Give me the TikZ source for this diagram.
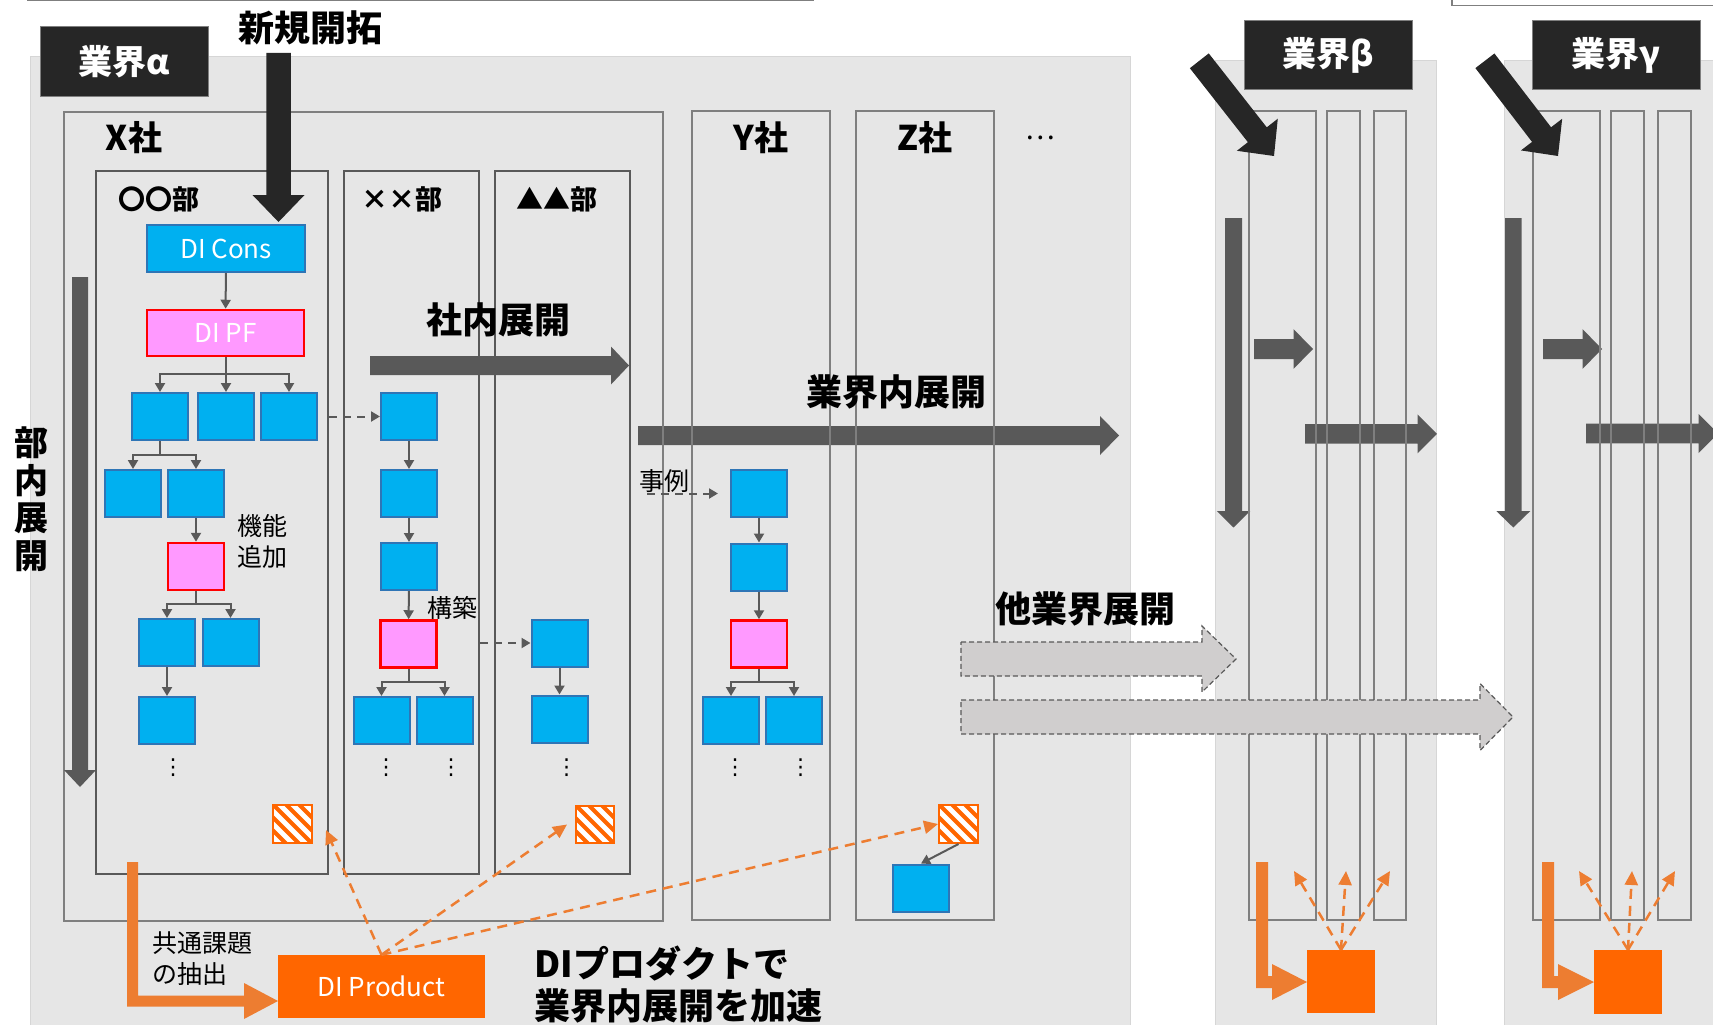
\documentclass[tikz,border=0pt]{standalone}
\usepackage{fontspec}
\setmainfont{Noto Sans CJK JP}
\newfontfamily\dejavu{DejaVu Sans}
\usetikzlibrary{calc,arrows.meta}

\definecolor{bgc}{HTML}{E6E6E6}
\definecolor{bgedge}{HTML}{D6D6D6}
\definecolor{darkc}{HTML}{262626}
\definecolor{g59}{HTML}{595959}
\definecolor{g7f}{HTML}{7F7F7F}
\definecolor{cyanb}{HTML}{00B0F0}
\definecolor{blueb}{HTML}{2E75B6}
\definecolor{pinkb}{HTML}{FF99FF}
\definecolor{redb}{HTML}{FF0000}
\definecolor{orfill}{HTML}{FF6600}
\definecolor{orarrow}{HTML}{ED7D31}
\definecolor{lightarr}{HTML}{D0CECE}

% block arrow: style, tail, tip, shaft half width, head half width, head length
\newcommand{\blockarrow}[6]{%
  \coordinate (ba-tip) at (#3);
  \coordinate (ba-tail) at (#2);
  \coordinate (ba-base) at ($(ba-tip)!#6!(ba-tail)$);
  \path[#1] ($(ba-tail)!#4!90:(ba-tip)$) -- ($(ba-base)!#4!90:(ba-tip)$)
    -- ($(ba-base)!#5!90:(ba-tip)$) -- (ba-tip) -- ($(ba-base)!#5!-90:(ba-tip)$)
    -- ($(ba-base)!#4!-90:(ba-tip)$) -- ($(ba-tail)!#4!-90:(ba-tip)$) -- cycle;
}

\tikzset{
  bgpanel/.style={fill=bgc, draw=bgedge, line width=1pt},
  darklabel/.style={fill=darkc, draw=g7f, line width=1pt, text=white, inner sep=0pt,
    font=\bfseries\fontsize{34}{40}\selectfont},
  company/.style={draw=g7f, line width=1.5pt, inner sep=0pt},
  dept/.style={draw=g59, line width=2.5pt, inner sep=0pt},
  bluebox/.style={fill=cyanb, draw=blueb, line width=2pt, inner sep=0pt, text=white,
    font=\fontsize{26}{30}\selectfont},
  pinkbox/.style={fill=pinkb, draw=redb, line width=2.5pt, inner sep=0pt, text=white,
    font=\fontsize{26}{30}\selectfont},
  sq/.style={minimum width=56pt, minimum height=47pt},
  hatchbox/.style={draw=orfill, line width=2pt, fill=white, inner sep=0pt,
    minimum width=39pt, minimum height=38pt,
    path picture={\foreach \k in {-4,...,4}{\draw[orfill, line width=4pt]
      ($(path picture bounding box.center)+(\k*13-25,-25)$) -- ++(50,50);}}},
  tree/.style={draw=g59, line width=2pt},
  treearrow/.style={tree, -{Triangle[length=9pt,width=10pt]}},
  dasharrow/.style={treearrow, dash pattern=on 8pt off 6pt},
  orangedash/.style={draw=orarrow, line width=2.5pt, dash pattern=on 10pt off 7pt,
    -{Triangle[length=14pt,width=13pt]}},
  heading/.style={font=\bfseries\fontsize{36}{42}\selectfont, inner sep=0pt},
  comp/.style={font=\bfseries\fontsize{34}{40}\selectfont, inner sep=0pt},
  deptlabel/.style={font=\bfseries\fontsize{27}{32}\selectfont, inner sep=0pt},
  smalltext/.style={font=\fontsize{25}{31}\selectfont, inner sep=0pt},
  vdots/.style={font=\dejavu\fontsize{22}{24}\selectfont, inner sep=0pt},
}

\begin{document}
\begin{tikzpicture}[x=1pt, y=-1pt]
\useasboundingbox (0,0) rectangle (1713,1025);
\clip (0,0) rectangle (1713,1025);

% frames cut by the picture edge
\draw[g7f, line width=1.5pt] (27,0.75) -- (814,0.75);
\draw[g7f, line width=1.5pt] (1452,-20) rectangle (1740,5.5);

% industry panels
\draw[bgpanel] (30,57) rectangle (1130,1040);
\draw[bgpanel] (1215,61) rectangle (1436,1040);
\draw[bgpanel] (1504,61) rectangle (1740,1040);

% big arrows under the frames
\blockarrow{fill=g59}{638,435.5}{1119,435.5}{9.5pt}{19.5pt}{19pt}
\blockarrow{fill=g59}{1233.5,218}{1233.5,527.5}{8.5pt}{16.75pt}{16.5pt}
\blockarrow{fill=g59}{1513.3,218}{1513.3,527.5}{8.3pt}{17pt}{16.5pt}
\blockarrow{fill=g59}{1254,349}{1313,349}{10pt}{19.8pt}{19.4pt}
\blockarrow{fill=g59}{1543,349}{1602,349}{10pt}{19.8pt}{19.4pt}
\blockarrow{fill=g59}{1305,433.8}{1437,433.8}{9.8pt}{19.5pt}{19.5pt}
\blockarrow{fill=g59}{1586,433.5}{1718,433.5}{9.8pt}{19.5pt}{19.5pt}

% companies
\node[company, minimum width=599pt, minimum height=809pt] (cX) at (363.5,516.5) {};
\node[company, minimum width=138pt, minimum height=809pt] (cY) at (761,515.5) {};
\node[company, minimum width=138pt, minimum height=809pt] (cZ) at (925,515.5) {};
% beta / gamma columns
\node[company, minimum width=67pt, minimum height=809pt] (bc1) at (1282.5,515.5) {};
\node[company, minimum width=33pt, minimum height=809pt] (bc2) at (1343.5,515.5) {};
\node[company, minimum width=32pt, minimum height=809pt] (bc3) at (1390,515.5) {};
\node[company, minimum width=67pt, minimum height=809pt] (gc1) at (1566.5,515.5) {};
\node[company, minimum width=33pt, minimum height=809pt] (gc2) at (1627.5,515.5) {};
\node[company, minimum width=33pt, minimum height=809pt] (gc3) at (1674.5,515.5) {};
% departments
\node[dept, minimum width=232pt, minimum height=703pt] (d1) at (212,522.5) {};
\node[dept, minimum width=135pt, minimum height=703pt] (d2) at (411.5,522.5) {};
\node[dept, minimum width=135pt, minimum height=703pt] (d3) at (562.5,522.5) {};

% industry labels
\node[darklabel, minimum width=168pt, minimum height=69pt] (labA) at (124,61.5) {業界α};
\node[darklabel, minimum width=168pt, minimum height=68pt] (labB) at (1328,55) {業界β};
\node[darklabel, minimum width=168pt, minimum height=68pt] (labG) at (1616,55) {業界γ};

% remaining big arrows (on top)
\blockarrow{fill=darkc}{278.5,53}{278.5,222}{12.25pt}{26pt}{27pt}
\blockarrow{fill=g59}{80,277}{80,787}{8pt}{16pt}{17pt}
\blockarrow{fill=g59}{370,365.5}{629,365.5}{9.5pt}{19pt}{18pt}
\blockarrow{fill=darkc}{1199.3,60.8}{1274,156}{12pt}{26pt}{27pt}
\blockarrow{fill=darkc}{1484.9,60.8}{1558,156}{12pt}{26pt}{27pt}
\blockarrow{fill=lightarr, draw=g59, line width=1.2pt, dash pattern=on 5pt off 3pt}{961,659}{1236,659}{17pt}{33pt}{34pt}
\blockarrow{fill=lightarr, draw=g59, line width=1.2pt, dash pattern=on 5pt off 3pt}{961,717}{1513,717}{17pt}{33.5pt}{33pt}

% OO dept
\node[bluebox, minimum width=158pt, minimum height=47pt] (dicons) at (226,248.5) {DI Cons};
\node[pinkbox, minimum width=157pt, minimum height=46pt] (dipf) at (225.5,333) {DI PF};
\node[bluebox, sq] (a1) at (160,416.5) {};
\node[bluebox, sq] (a2) at (226,416.5) {};
\node[bluebox, sq] (a3) at (289,416.5) {};
\node[bluebox, sq] (a4) at (133,493.5) {};
\node[bluebox, sq] (a5) at (196,493.5) {};
\node[pinkbox, sq] (a6) at (196,566.5) {};
\node[bluebox, sq] (a7) at (167,642.5) {};
\node[bluebox, sq] (a8) at (230.5,642.5) {};
\node[bluebox, sq] (a9) at (167,720.5) {};
% xx dept
\node[bluebox, sq] (b1) at (409,416.5) {};
\node[bluebox, sq] (b2) at (409,493.5) {};
\node[bluebox, sq] (b3) at (409,566.5) {};
\node[pinkbox, sq] (b4) at (408.5,644) {};
\node[bluebox, sq] (b5) at (381.5,720.5) {};
\node[bluebox, sq] (b6) at (444.5,720.5) {};
% triangle dept
\node[bluebox, sq] (c1) at (559.5,643) {};
\node[bluebox, sq] (c2) at (559.5,719) {};
% Y company
\node[bluebox, sq] (y1) at (759,493.5) {};
\node[bluebox, sq] (y2) at (759,567) {};
\node[pinkbox, sq] (y3) at (759,644) {};
\node[bluebox, sq] (y4) at (731,720.5) {};
\node[bluebox, sq] (y5) at (794,720.5) {};
% Z company
\node[bluebox, sq] (zb) at (921,888) {};
% hatched
\node[hatchbox] (h1) at (292.5,824) {};
\node[hatchbox, minimum width=38pt, minimum height=37pt] (h2) at (595,824.5) {};
\node[hatchbox] (h3) at (958.5,824) {};
% orange boxes
\node[fill=orfill, minimum width=207pt, minimum height=63pt, inner sep=0pt, text=white,
  font=\fontsize{26}{30}\selectfont] (dip) at (381.5,986.5) {DI Product};
\node[fill=orfill, minimum width=68pt, minimum height=63pt, inner sep=0pt] (ob) at (1341,981.5) {};
\node[fill=orfill, minimum width=68pt, minimum height=64pt, inner sep=0pt] (og) at (1628,982) {};

% tree connectors
\draw[treearrow] (dicons) -- (dipf);
\coordinate (j1) at (225.5,374);
\draw[tree] (dipf) -- (j1);
\draw[treearrow] (j1) -| (a1);
\draw[treearrow] (j1) -| (a2);
\draw[treearrow] (j1) -| (a3);
\coordinate (j2) at (160,455);
\draw[tree] (a1) -- (j2);
\draw[treearrow] (j2) -| (a4);
\draw[treearrow] (j2) -| (a5);
\draw[treearrow] (a5) -- (a6);
\coordinate (j3) at (196,604);
\draw[tree] (a6) -- (j3);
\draw[treearrow] (j3) -| (a7);
\draw[treearrow] (j3) -| (a8);
\draw[treearrow] (a7) -- (a9);
\draw[treearrow] (b1) -- (b2);
\draw[treearrow] (b2) -- (b3);
\draw[treearrow] (b3) -- (b4);
\coordinate (j4) at (408.5,682);
\draw[tree] (b4) -- (j4);
\draw[treearrow] (j4) -| (b5);
\draw[treearrow] (j4) -| (b6);
\draw[treearrow] (c1) -- (c2);
\draw[treearrow] (y1) -- (y2);
\draw[treearrow] (y2) -- (y3);
\coordinate (j5) at (759,682);
\draw[tree] (y3) -- (j5);
\draw[treearrow] (j5) -| (y4);
\draw[treearrow] (j5) -| (y5);
\draw[treearrow] (h3.south) -- (zb.north);

% dashed gray connectors
\draw[dasharrow] (d1.east |- a3.center) -- (b1);
\draw[dasharrow] (d2.east |- c1.center) -- (c1);
\coordinate (ex) at (647,493.5);
\draw[dasharrow, shorten >=12pt] (ex) -- (y1);

% orange L arrows
\fill[orarrow] (127,862) -- (138,862) -- (138,995.5) -- (244,995.5) -- (244,983) -- (278,1001)
  -- (244,1019) -- (244,1006.5) -- (127,1006.5) -- cycle;
\fill[orarrow] (1256,862) -- (1268,862) -- (1268,976) -- (1272,976) -- (1272,964) -- (1307,982)
  -- (1272,1000) -- (1272,988) -- (1256,988) -- cycle;
\fill[orarrow] (1542,862) -- (1554,862) -- (1554,976) -- (1558,976) -- (1558,964) -- (1594,982)
  -- (1558,1000) -- (1558,988) -- (1542,988) -- cycle;

% orange dashed arrows
\draw[orangedash] (dip.north) -- ([xshift=13pt,yshift=-6pt]h1.east);
\draw[orangedash] (dip.north) -- ([xshift=-8pt]h2.west);
\draw[orangedash] (dip.north) -- (h3.west);
\coordinate (ob1) at (1294,871);
\coordinate (ob2) at (1346,871);
\coordinate (ob3) at (1390,871);
\coordinate (og1) at (1579,871);
\coordinate (og2) at (1632,871);
\coordinate (og3) at (1675,871);
\draw[orangedash] (ob.north) -- (ob1);
\draw[orangedash] (ob.north) -- (ob2);
\draw[orangedash] (ob.north) -- (ob3);
\draw[orangedash] (og.north) -- (og1);
\draw[orangedash] (og.north) -- (og2);
\draw[orangedash] (og.north) -- (og3);

% texts
\node[heading] (t-new) at (310,28) {新規開拓};
\node[heading] (t-sha) at (498,320) {社内展開};
\node[heading] (t-gyo) at (896,392) {業界内展開};
\node[heading] (t-oth) at (1085,609) {他業界展開};
\node[heading, align=center, font=\bfseries\fontsize{34}{37.5}\selectfont] (t-bu) at (31,499.5) {部\\内\\展\\開};
\node[comp] (t-x) at (134,138) {X社};
\node[comp] (t-y) at (761,138) {Y社};
\node[comp] (t-z) at (925,138) {Z社};
\node[font=\fontsize{28}{30}\selectfont, inner sep=0pt] (t-more) at (1040,138) {…};
\node[deptlabel] (t-d1) at (159,199) {〇〇部};
\node[deptlabel] (t-d2) at (402,199) {××部};
\node[deptlabel] (t-d3) at (557,199) {▲▲部};
\node[smalltext, align=left] (t-kino) at (262,541.5) {機能\\追加};
\node[smalltext] (t-kou) at (452,608) {構築};
\node[smalltext] (t-jirei) at (664,481) {事例};
\node[smalltext, align=left, anchor=west] (t-kyo) at (152,959) {共通課題\\の抽出};
\node[heading, align=left, anchor=west, font=\bfseries\fontsize{36}{42}\selectfont] (t-acc) at (534,985) {DIプロダクトで\\業界内展開を加速};
\node[vdots] (v1) at (173,768) {⋮};
\node[vdots] (v2) at (386,768) {⋮};
\node[vdots] (v3) at (451,768) {⋮};
\node[vdots] (v4) at (566.5,768) {⋮};
\node[vdots] (v5) at (735,768) {⋮};
\node[vdots] (v6) at (800.5,768) {⋮};
\end{tikzpicture}
\end{document}
